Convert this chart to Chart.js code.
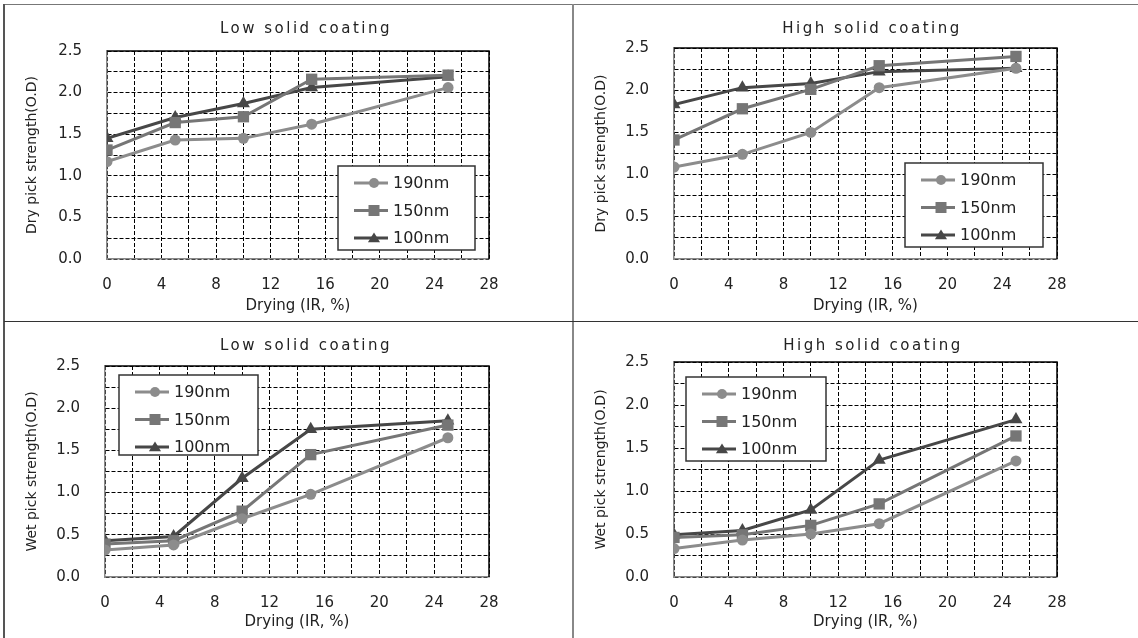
<!DOCTYPE html>
<html>
<head>
<meta charset="utf-8">
<script src="https://cdn.jsdelivr.net/npm/chart.js@4.4.1/dist/chart.umd.min.js"></script>
<style>
  body { margin: 0; background: #fff; width: 1138px; height: 638px; position: relative; overflow: hidden; }
  canvas { position: absolute; }
  .rule { position: absolute; }
</style>
</head>
<body>
<canvas id="dryLow" width="569" height="317" style="left:4px;top:5px;width:569px;height:317px"></canvas>
<canvas id="dryHigh" width="565" height="317" style="left:573px;top:5px;width:565px;height:317px"></canvas>
<canvas id="wetLow" width="569" height="316" style="left:4px;top:322px;width:569px;height:316px"></canvas>
<canvas id="wetHigh" width="565" height="316" style="left:573px;top:322px;width:565px;height:316px"></canvas>

<div class="rule" style="left:4px;top:4px;width:1134px;height:1px;background:#777"></div>
<div class="rule" style="left:3px;top:4px;width:2px;height:634px;background:#555"></div>
<div class="rule" style="left:572px;top:4px;width:2px;height:634px;background:#888"></div>
<div class="rule" style="left:4px;top:321px;width:1134px;height:1px;background:#333"></div>

<script>
// drying level (IR, %) on the x axis
var dryingLevels = [0, 5, 10, 15, 25];
var seriesNames = ['190nm', '150nm', '100nm'];
var xTickLabels = [0, 4, 8, 12, 16, 20, 24, 28];
var yTickLabels = ['0.0', '0.5', '1.0', '1.5', '2.0', '2.5'];

// dry pick strength, low solid coating
var dryLow190 = [1.17, 1.43, 1.45, 1.62, 2.06];
var dryLow150 = [1.31, 1.64, 1.71, 2.16, 2.21];
var dryLow100 = [1.45, 1.70, 1.87, 2.06, 2.19];

// dry pick strength, high solid coating
var dryHigh190 = [1.09, 1.24, 1.50, 2.03, 2.26];
var dryHigh150 = [1.41, 1.78, 2.01, 2.29, 2.40];
var dryHigh100 = [1.83, 2.03, 2.08, 2.22, 2.26];

// wet pick strength, low solid coating
var wetLow190 = [0.32, 0.38, 0.69, 0.98, 1.65];
var wetLow150 = [0.39, 0.43, 0.78, 1.45, 1.80];
var wetLow100 = [0.43, 0.48, 1.17, 1.75, 1.85];

// wet pick strength, high solid coating
var wetHigh190 = [0.33, 0.43, 0.50, 0.62, 1.35];
var wetHigh150 = [0.46, 0.49, 0.60, 0.85, 1.64];
var wetHigh100 = [0.49, 0.54, 0.78, 1.36, 1.83];

var seriesColors = ['#8c8c8c', '#767676', '#474747'];
var pointStyles = ['circle', 'rect', 'triangle'];
var pointRadii = [5.5, 8, 7.5];

Chart.defaults.font.family = '"DejaVu Sans", sans-serif';
Chart.defaults.color = '#222';

function drawMarker(ctx, style, x, y, r) {
  ctx.beginPath();
  if (style == 'circle') {
    ctx.arc(x, y, r, 0, Math.PI * 2);
  } else if (style == 'rect') {
    ctx.rect(x - r, y - r, r * 2, r * 2);
  } else {
    ctx.moveTo(x, y - r);
    ctx.lineTo(x + r * 1.1, y + r * 0.75);
    ctx.lineTo(x - r * 1.1, y + r * 0.75);
    ctx.closePath();
  }
  ctx.fill();
}

var decor = {
  id: 'decor',
  beforeDatasetsDraw: function(chart) {
    var ctx = chart.ctx, a = chart.chartArea;
    ctx.save();
    ctx.strokeStyle = '#000';
    ctx.lineWidth = 1.5;
    ctx.beginPath();
    ctx.moveTo(a.left, a.top);
    ctx.lineTo(a.right, a.top);
    ctx.lineTo(a.right, a.bottom);
    ctx.stroke();
    ctx.restore();
  },
  afterDraw: function(chart, args, opts) {
    var ctx = chart.ctx;
    ctx.save();
    // panel title
    ctx.fillStyle = '#222';
    ctx.font = '15px "DejaVu Sans"';
    ctx.letterSpacing = '2.5px';
    ctx.textAlign = 'center';
    ctx.textBaseline = 'middle';
    ctx.fillText(opts.title, opts.titleX, opts.titleY);
    ctx.letterSpacing = '0px';

    // legend box
    var b = opts.box;
    ctx.fillStyle = '#fff';
    ctx.fillRect(b.x, b.y, b.w, b.h);
    ctx.strokeStyle = '#333';
    ctx.lineWidth = 1.5;
    ctx.strokeRect(b.x, b.y, b.w, b.h);
    ctx.font = '16px "DejaVu Sans"';
    ctx.textAlign = 'left';
    chart.data.datasets.forEach(function(ds, i) {
      var y = b.y + 17 + i * 27.5;
      ctx.strokeStyle = ds.borderColor;
      ctx.lineWidth = 3;
      ctx.beginPath();
      ctx.moveTo(b.x + 16, y);
      ctx.lineTo(b.x + 50, y);
      ctx.stroke();
      ctx.fillStyle = ds.borderColor;
      drawMarker(ctx, ds.pointStyle, b.x + 36, y, i == 0 ? 5 : 5.5);
      ctx.fillStyle = '#222';
      ctx.fillText(ds.label, b.x + 55, y + 1);
    });
    ctx.restore();
  }
};

function makePanel(id, title, titleX, yTitle, series, area, box) {
  var canvas = document.getElementById(id);
  var W = canvas.width, H = canvas.height;
  var datasets = seriesNames.map(function(name, i) {
    return {
      label: name,
      data: dryingLevels.map(function(x, j) { return { x: x, y: series[i][j] }; }),
      borderColor: seriesColors[i],
      backgroundColor: seriesColors[i],
      borderWidth: 3,
      pointStyle: pointStyles[i],
      pointRadius: pointRadii[i],
      pointHoverRadius: pointRadii[i],
      pointBorderWidth: 0,
      tension: 0,
      fill: false
    };
  });
  new Chart(canvas, {
    type: 'line',
    data: { datasets: datasets },
    options: {
      responsive: false,
      animation: false,
      events: [],
      layout: { padding: { left: 0, top: area.top, right: W - area.right, bottom: 0 } },
      plugins: {
        legend: { display: false },
        tooltip: { enabled: false },
        decor: { title: title, titleX: titleX, titleY: 24, box: box }
      },
      scales: {
        x: {
          type: 'linear',
          min: 0, max: 28,
          afterFit: function(s) { s.height = H - area.bottom; },
          ticks: {
            stepSize: 2,
            padding: 17,
            font: { size: 15 },
            color: '#222',
            maxRotation: 0,
            autoSkip: false,
            callback: function(v) { return xTickLabels.indexOf(v) >= 0 ? String(v) : ''; }
          },
          grid: { color: '#000', lineWidth: 1, drawTicks: false },
          border: { color: '#888', width: 1.5, dash: [4, 2] },
          title: { display: true, text: 'Drying (IR, %)', font: { size: 15 }, color: '#222', padding: { top: 0, bottom: 7 } }
        },
        y: {
          min: 0, max: 2.5,
          afterFit: function(s) { s.width = area.left; },
          ticks: {
            stepSize: 0.25,
            padding: 25,
            font: { size: 15 },
            color: '#222',
            autoSkip: false,
            callback: function(v) {
              var t = v.toFixed(1);
              return (yTickLabels.indexOf(t) >= 0 && Math.abs(v * 2 - Math.round(v * 2)) < 1e-6) ? t : '';
            }
          },
          grid: { color: '#000', lineWidth: 1, drawTicks: false },
          border: { color: '#888', width: 1.5, dash: [4, 2] },
          title: { display: true, text: yTitle, font: { size: 14 }, color: '#222', padding: { top: 20, bottom: 0 } }
        }
      }
    },
    plugins: [decor]
  });
}

makePanel('dryLow', 'Low solid coating', 302, 'Dry pick strength(O.D)',
  [dryLow190, dryLow150, dryLow100],
  { left: 103, right: 485, top: 46, bottom: 254 },
  { x: 334, y: 161, w: 137, h: 84 });

makePanel('dryHigh', 'High solid coating', 299, 'Dry pick strength(O.D)',
  [dryHigh190, dryHigh150, dryHigh100],
  { left: 101, right: 484, top: 43, bottom: 254 },
  { x: 332, y: 158, w: 138, h: 84 });

makePanel('wetLow', 'Low solid coating', 302, 'Wet pick strength(O.D)',
  [wetLow190, wetLow150, wetLow100],
  { left: 101, right: 485, top: 44, bottom: 255 },
  { x: 115, y: 53, w: 139, h: 80 });

makePanel('wetHigh', 'High solid coating', 300, 'Wet pick strength(O.D)',
  [wetHigh190, wetHigh150, wetHigh100],
  { left: 101, right: 484, top: 40, bottom: 255 },
  { x: 113, y: 55, w: 140, h: 84 });
</script>
</body>
</html>
